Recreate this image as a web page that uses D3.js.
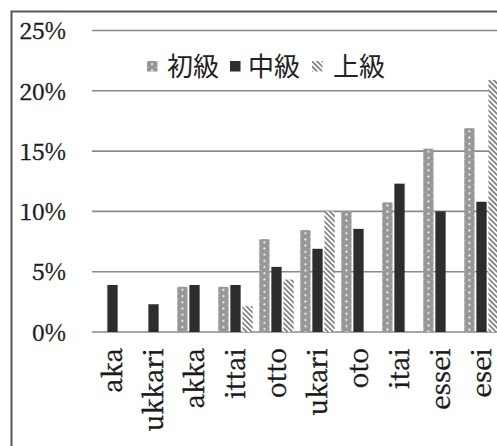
<!DOCTYPE html>
<html>
<head>
<meta charset="utf-8">
<script src="https://cdn.jsdelivr.net/npm/d3@7"></script>
<style>
  html, body { margin: 0; padding: 0; background: #fff; }
  svg { display: block; }
</style>
</head>
<body>
<svg id="chart" width="497" height="446"></svg>
<script>
// Word forms on the x axis
const categories = ["aka", "ukkari", "akka", "ittai", "otto", "ukari", "oto", "itai", "essei", "esei"];
// Learner levels
const seriesNames = ["初級", "中級", "上級"];
// Share of responses (%) per level; null = no bar
const beginner     = [null, null, 3.75, 3.75, 7.7, 8.45, 10.0, 10.75, 15.2, 16.9];
const intermediate = [3.9, 2.3, 3.9, 3.9, 5.4, 6.9, 8.55, 12.3, 10.0, 10.8];
const advanced     = [null, null, null, 2.15, 4.35, 10.0, null, null, null, 20.9];
const yTicks = [0, 5, 10, 15, 20, 25];

const seriesValues = [beginner, intermediate, advanced];
const serifFont = '"Noto Serif CJK JP", "Liberation Serif", serif';

const svg = d3.select("#chart");
const defs = svg.append("defs");

// Outer frame
svg.append("rect")
  .attr("x", 11.5).attr("y", 11.5)
  .attr("width", 600).attr("height", 600)
  .attr("fill", "#fff")
  .attr("stroke", "#555").attr("stroke-width", 2);

const y = d3.scaleLinear().domain([0, 25]).range([332, 30.5]);
const x0 = d3.scaleBand().domain(categories).range([92, 502]).paddingInner(0).paddingOuter(0);
const x1 = d3.scaleBand().domain(seriesNames).range([3.25, 37.75]).paddingInner(0.15);

// Hatched fill for 上級
const hatch = defs.append("pattern")
  .attr("id", "hatch")
  .attr("patternUnits", "userSpaceOnUse")
  .attr("width", 3.6).attr("height", 10)
  .attr("patternTransform", "rotate(-45)");
hatch.append("rect").attr("width", 3.6).attr("height", 10).attr("fill", "#fff");
hatch.append("rect").attr("width", 1.7).attr("height", 10).attr("fill", "#7d7d7d");

// Dotted grey fill for 初級, anchored to each bar
function dotPattern(id, px, py, w) {
  const p = defs.append("pattern")
    .attr("id", id)
    .attr("patternUnits", "userSpaceOnUse")
    .attr("x", px).attr("y", py)
    .attr("width", w).attr("height", 6.2);
  p.append("rect").attr("width", w).attr("height", 6.2).attr("fill", "#979797");
  p.append("circle").attr("cx", w / 2).attr("cy", 3.1).attr("r", 1.05).attr("fill", "#f2f2f2");
  p.append("circle").attr("cx", 0.6).attr("cy", 0.2).attr("r", 0.7).attr("fill", "#c8c8c8");
  p.append("circle").attr("cx", w - 0.6).attr("cy", 0.2).attr("r", 0.7).attr("fill", "#c8c8c8");
  return `url(#${id})`;
}

const fills = {
  "初級": null,
  "中級": "#2d2d2d",
  "上級": "url(#hatch)"
};

// Gridlines
const grid = svg.append("g");
grid.selectAll("line").data(yTicks).join("line")
  .attr("x1", 92).attr("x2", 497)
  .attr("y1", d => y(d)).attr("y2", d => y(d))
  .attr("stroke", "#8a8a8a").attr("stroke-width", 1.6);

// Y axis labels
const yAxis = d3.axisLeft(y).tickValues(yTicks).tickFormat(d => d + "%").tickSize(0).tickPadding(0);
const gy = svg.append("g").attr("transform", "translate(66,0)").call(yAxis);
gy.select(".domain").remove();
gy.selectAll("text")
  .style("font-family", serifFont)
  .style("font-size", "23px")
  .attr("fill", "#1a1a1a")
  .attr("stroke", "#1a1a1a").attr("stroke-width", 0.45)
  .attr("dy", "0.36em");

// Bars
const barData = [];
categories.forEach((c, i) => {
  seriesNames.forEach((s, j) => {
    const v = seriesValues[j][i];
    if (v != null) barData.push({ cat: c, series: s, value: v, idx: i });
  });
});

const bars = svg.append("g");
bars.selectAll("rect").data(barData).join("rect")
  .attr("x", d => x0(d.cat) + x1(d.series))
  .attr("y", d => y(d.value))
  .attr("width", x1.bandwidth())
  .attr("height", d => y(0) - y(d.value))
  .attr("fill", d => d.series === "初級"
    ? dotPattern("dots" + d.idx, x0(d.cat) + x1(d.series), y(d.value), x1.bandwidth())
    : fills[d.series]);

// X axis category labels (rotated)
const xAxis = d3.axisBottom(x0).tickSize(0).tickPadding(0);
const gx = svg.append("g").attr("transform", "translate(0,348)").call(xAxis);
gx.select(".domain").remove();
gx.selectAll("text")
  .style("font-family", serifFont)
  .style("font-size", "26px")
  .attr("fill", "#1a1a1a")
  .attr("stroke", "#1a1a1a").attr("stroke-width", 0.45)
  .attr("transform", "rotate(-90)")
  .attr("text-anchor", "end")
  .attr("x", 0).attr("y", 0)
  .attr("dy", "0.36em");

// Legend
const legendItems = [
  { name: "初級", sx: 147, tx: 167 },
  { name: "中級", sx: 230, tx: 248 },
  { name: "上級", sx: 312, tx: 333 }
];
const legend = svg.append("g");
legendItems.forEach(it => {
  const fill = it.name === "初級" ? dotPattern("dotsLegend", it.sx, 61, 10) : fills[it.name];
  legend.append("rect")
    .attr("x", it.sx).attr("y", 61)
    .attr("width", 10.5).attr("height", 10.5)
    .attr("fill", fill);
  legend.append("text")
    .attr("x", it.tx).attr("y", 76)
    .style("font-family", '"Noto Sans CJK JP", sans-serif')
    .style("font-size", "26px")
    .attr("fill", "#222")
    .text(it.name);
});
</script>
</body>
</html>
